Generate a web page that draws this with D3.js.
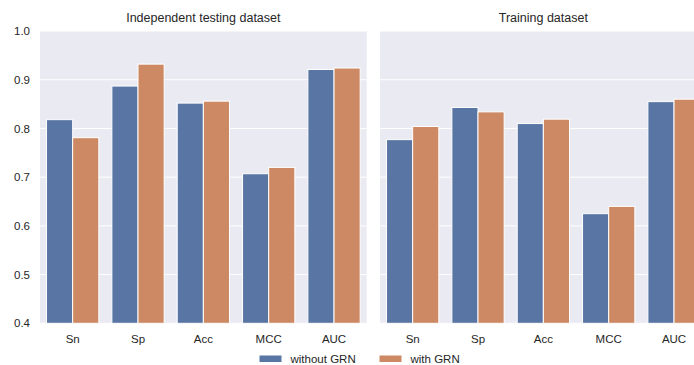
<!DOCTYPE html>
<html>
<head>
<meta charset="utf-8">
<script src="https://cdn.jsdelivr.net/npm/d3@7"></script>
<style>
  html, body { margin: 0; padding: 0; background: #ffffff; }
  svg { display: block; }
  text { font-family: "Liberation Sans", Arial, sans-serif; fill: #262626; }
</style>
</head>
<body>
<svg id="chart" width="694" height="365"></svg>
<script>
// Metric names along the x axis
const metrics = ["Sn", "Sp", "Acc", "MCC", "AUC"];
// Series shown in each panel
const seriesNames = ["without GRN", "with GRN"];
// Panel titles
const panelTitles = ["Independent testing dataset", "Training dataset"];
// Scores on the independent testing set
const testingWithout = [0.818, 0.887, 0.852, 0.707, 0.921];
const testingWith    = [0.781, 0.932, 0.856, 0.720, 0.924];
// Scores on the training set
const trainingWithout = [0.777, 0.843, 0.810, 0.625, 0.855];
const trainingWith    = [0.804, 0.834, 0.819, 0.640, 0.860];
// Y axis ticks
const yTicks = [0.4, 0.5, 0.6, 0.7, 0.8, 0.9, 1.0];

const panels = [
  { title: panelTitles[0], values: [testingWithout, testingWith] },
  { title: panelTitles[1], values: [trainingWithout, trainingWith] }
];

const colors = { "without GRN": "#5975a4", "with GRN": "#cc8963" };

const svg = d3.select("#chart");
const panelW = 326.7, panelTop = 31, panelBottom = 323.3, panelGap = 13.3, left0 = 40;

const y = d3.scaleLinear().domain([0.4, 1.0]).range([panelBottom, panelTop]);

panels.forEach((p, pi) => {
  const x0 = left0 + pi * (panelW + panelGap);
  const g = svg.append("g").attr("transform", `translate(${x0},0)`);

  const x = d3.scaleBand().domain(metrics).range([0, panelW])
    .paddingInner(0.2).paddingOuter(0.1);
  const xs = d3.scaleBand().domain(seriesNames).range([0, x.bandwidth()]);

  // plot background
  g.append("rect").attr("x", 0).attr("y", panelTop)
    .attr("width", panelW).attr("height", panelBottom - panelTop)
    .attr("fill", "#eaeaf2");

  // horizontal grid
  g.selectAll("line.grid").data(yTicks).join("line")
    .attr("class", "grid")
    .attr("x1", 0).attr("x2", panelW)
    .attr("y1", d => y(d)).attr("y2", d => y(d))
    .attr("stroke", "#ffffff").attr("stroke-width", 1);

  // bars
  const rows = [];
  seriesNames.forEach((s, si) => {
    metrics.forEach((m, mi) => rows.push({ s, m, v: p.values[si][mi] }));
  });
  g.selectAll("rect.bar").data(rows).join("rect")
    .attr("class", "bar")
    .attr("x", d => x(d.m) + xs(d.s))
    .attr("width", xs.bandwidth())
    .attr("y", d => y(d.v))
    .attr("height", d => y(0.4) - y(d.v))
    .attr("fill", d => colors[d.s])
    .attr("stroke", "#ffffff").attr("stroke-width", 1);

  // panel title
  g.append("text")
    .attr("x", panelW / 2).attr("y", 22)
    .attr("text-anchor", "middle").attr("font-size", 12.5)
    .text(p.title);

  // x axis labels
  const xAxis = d3.axisBottom(x).tickSize(0).tickPadding(0);
  const ax = g.append("g").attr("transform", `translate(0,${panelBottom})`).call(xAxis);
  ax.select(".domain").remove();
  ax.selectAll("text")
    .attr("y", 19.5).attr("dy", 0)
    .attr("font-size", 11.5).attr("fill", "#262626")
    .style("font-family", '"Liberation Sans", Arial, sans-serif');

  // y axis labels on the first panel only
  if (pi === 0) {
    const yAxis = d3.axisLeft(y).tickValues(yTicks).tickFormat(d3.format(".1f"))
      .tickSize(0).tickPadding(10);
    const ay = g.append("g").call(yAxis);
    ay.select(".domain").remove();
    ay.selectAll("text")
      .attr("font-size", 11.5).attr("fill", "#262626")
      .style("font-family", '"Liberation Sans", Arial, sans-serif');
  }
});

// legend
const legendItems = [
  { name: seriesNames[0], x: 259.5 },
  { name: seriesNames[1], x: 379.5 }
];
const lg = svg.append("g");
legendItems.forEach(it => {
  lg.append("rect").attr("x", it.x).attr("y", 355.5)
    .attr("width", 22).attr("height", 6.5)
    .attr("fill", colors[it.name]);
  lg.append("text").attr("x", it.x + 31).attr("y", 362.5)
    .attr("font-size", 11.5).text(it.name);
});
</script>
</body>
</html>
